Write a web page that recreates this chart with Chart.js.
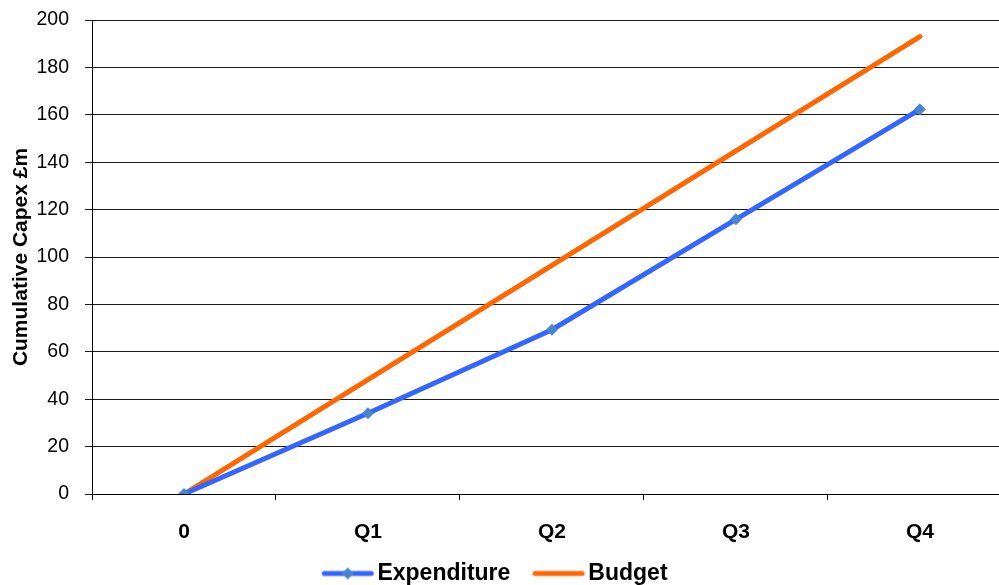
<!DOCTYPE html>
<html>
<head>
<meta charset="utf-8">
<title>Cumulative Capex</title>
<script src="https://cdn.jsdelivr.net/npm/chart.js@4.4.1/dist/chart.umd.min.js"></script>
<style>
  html, body { margin: 0; padding: 0; background: #fff; overflow: hidden; }
  canvas { display: block; }
</style>
</head>
<body>
<canvas id="capexChart" width="999" height="585"></canvas>
<script>
var quarters = ['0', 'Q1', 'Q2', 'Q3', 'Q4'];
var expenditure = [0, 34.1, 69.3, 115.9, 162.3];
var budget = [0, 48.25, 96.5, 144.75, 193];
var yMin = 0, yMax = 200, yStep = 20;

var FONT = '"Liberation Sans", Arial, Helvetica, sans-serif';
var EXP_LINE = '#3366FF', EXP_MARK = '#4A86D0', BUD_LINE = '#FF6600';

function toPoints(values) {
  return values.map(function (v, i) { return { x: i, y: v }; });
}

// legend swatch: a short thick line, with a diamond for the marker series.
// the image is wider than the line so the gap before each item sits inside it
function legendSwatch(color, markColor) {
  var c = document.createElement('canvas');
  c.width = 84; c.height = 14;
  var g = c.getContext('2d');
  g.strokeStyle = color;
  g.lineWidth = 5;
  g.lineCap = 'round';
  g.beginPath();
  g.moveTo(33.5, 7); g.lineTo(80.5, 7);
  g.stroke();
  if (markColor) {
    g.fillStyle = markColor;
    g.beginPath();
    g.moveTo(57, 1); g.lineTo(63, 7); g.lineTo(57, 13); g.lineTo(51, 7);
    g.closePath();
    g.fill();
  }
  return c;
}
var swatches = [legendSwatch(EXP_LINE, EXP_MARK), legendSwatch(BUD_LINE, null)];

// move the legend row a little left of centre and down into the bottom margin
var legendShift = {
  id: 'legendShift',
  afterLayout: function (chart) {
    var lg = chart.legend;
    if (lg) {
      lg.left = -16; lg.right = chart.width - 16;
      lg.top += 10; lg.bottom += 10;
    }
  }
};

var ctx = document.getElementById('capexChart').getContext('2d');
var capexChart = new Chart(ctx, {
  type: 'line',
  data: {
    datasets: [{
      label: 'Expenditure',
      data: toPoints(expenditure),
      borderColor: EXP_LINE,
      borderWidth: 5,
      borderCapStyle: 'round',
      tension: 0,
      pointStyle: 'rectRot',
      pointRadius: 6,
      pointBackgroundColor: EXP_MARK,
      pointBorderColor: EXP_MARK,
      pointBorderWidth: 0
    }, {
      label: 'Budget',
      data: toPoints(budget),
      borderColor: BUD_LINE,
      borderWidth: 5,
      borderCapStyle: 'round',
      tension: 0,
      pointRadius: 0
    }]
  },
  plugins: [legendShift],
  options: {
    responsive: false,
    animation: false,
    layout: { autoPadding: false, padding: { top: 20, right: 0, bottom: 0, left: 0 } },
    scales: {
      x: {
        type: 'linear',
        min: -0.5,
        max: 4.43,
        afterBuildTicks: function (scale) {
          scale.ticks = quarters.map(function (q, i) { return { value: i }; });
        },
        afterFit: function (scale) {
          scale.height = 58;
          scale.paddingLeft = 0;
          scale.paddingRight = 0;
        },
        ticks: {
          autoSkip: false,
          maxRotation: 0,
          padding: 20,
          color: '#000',
          font: { family: FONT, size: 21, weight: 'bold' },
          callback: function (value) { return quarters[value]; }
        },
        grid: {
          offset: true,
          drawOnChartArea: false,
          tickLength: 6,
          color: '#000'
        },
        border: { display: true, color: '#000', width: 1 }
      },
      y: {
        min: yMin,
        max: yMax,
        afterFit: function (scale) {
          scale.width = 92;
          scale.paddingTop = 0;
          scale.paddingBottom = 0;
        },
        ticks: {
          stepSize: yStep,
          padding: 16,
          color: '#000',
          font: { family: FONT, size: 19.5 }
        },
        grid: { color: '#1a1a1a', lineWidth: 1, tickLength: 7 },
        border: { display: true, color: '#000', width: 1 },
        title: {
          display: true,
          text: 'Cumulative Capex £m',
          color: '#000',
          font: { family: FONT, size: 21, weight: 'bold' },
          padding: { top: 9, bottom: 0 }
        }
      }
    },
    plugins: {
      tooltip: { enabled: false },
      legend: {
        position: 'bottom',
        labels: {
          usePointStyle: true,
          pointStyleWidth: 66.5,
          padding: 0,
          color: '#000',
          font: { family: FONT, size: 23, weight: 'bold' },
          generateLabels: function (chart) {
            var items = Chart.defaults.plugins.legend.labels.generateLabels(chart);
            items.forEach(function (it, i) { it.pointStyle = swatches[i]; });
            return items;
          }
        }
      }
    }
  }
});
</script>
</body>
</html>
